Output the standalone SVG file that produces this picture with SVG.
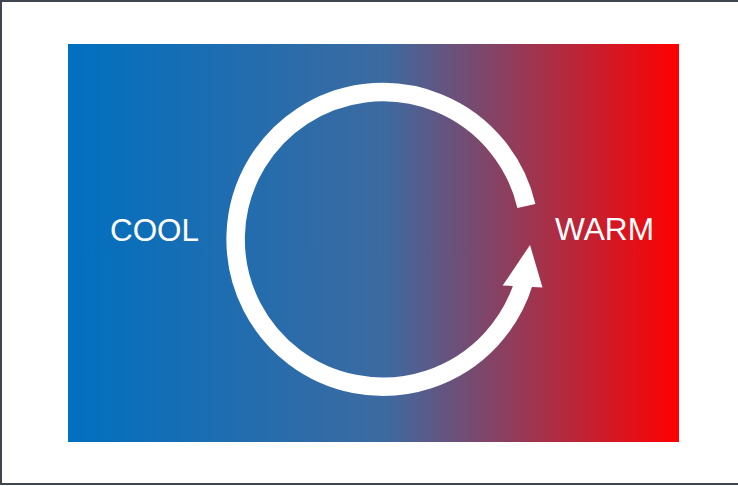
<svg xmlns="http://www.w3.org/2000/svg" width="738" height="486" viewBox="0 0 738 486">
  <defs>
    <linearGradient id="bg" x1="0" y1="0" x2="1" y2="0">
      <stop offset="0" stop-color="#0070C0"/>
      <stop offset="0.52" stop-color="#3D6AA0"/>
      <stop offset="1" stop-color="#FF0000"/>
    </linearGradient>
    <style>
      .lbl { font-family: "Liberation Sans", Arial, sans-serif; font-size: 31px; fill: #ffffff; }
      .cyc { fill: none; stroke: #ffffff; stroke-width: 18.5; }
    </style>
  </defs>
  <rect x="0" y="0" width="738" height="486" fill="#ffffff"/>
  <rect x="1" y="1" width="740" height="483" fill="none" stroke="#3F4650" stroke-width="2"/>
  <g id="panel">
    <rect x="68" y="44" width="611" height="398" fill="url(#bg)"/>
  </g>
  <g id="connectors">
    <path class="cyc" d="M 523.8 282.4 A 147.3 147.3 0 1 1 526.4 206"/>
    <polygon points="502.7,285.5 530,245 542.5,287.5" fill="#ffffff"/>
  </g>
  <g id="cool">
    <text class="lbl" x="110" y="240.5" textLength="89" lengthAdjust="spacingAndGlyphs">COOL</text>
  </g>
  <g id="warm">
    <text class="lbl" x="555" y="240" textLength="99" lengthAdjust="spacingAndGlyphs">WARM</text>
  </g>
</svg>
